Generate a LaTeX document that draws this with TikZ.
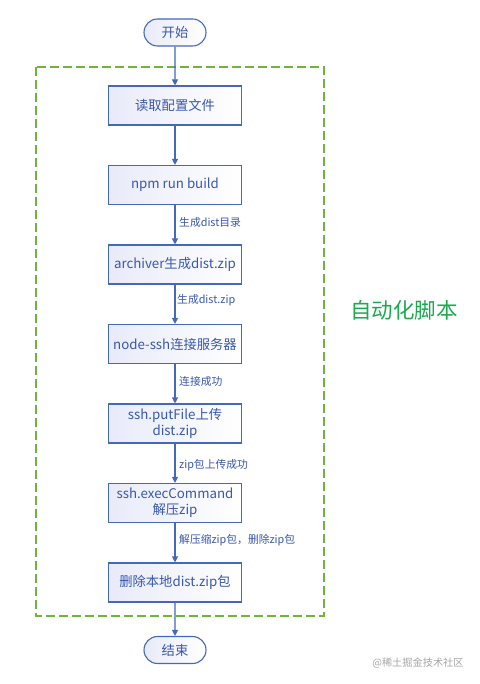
\documentclass[tikz,border=0pt]{standalone}
\usepackage{fontspec}
\setmainfont{Noto Sans CJK SC}
\usetikzlibrary{arrows.meta,shapes.misc}
\definecolor{lineblue}{RGB}{68,104,186}
\definecolor{textblue}{RGB}{58,88,170}
\definecolor{fillblue}{RGB}{232,235,248}
\definecolor{dashgreen}{RGB}{112,180,60}
\definecolor{labelgreen}{RGB}{28,170,80}
\begin{document}
\begin{tikzpicture}[x=1pt,y=-1pt,
  procbox/.style={draw=lineblue,line width=1.1pt,left color=fillblue,right color=white,
    minimum width=133pt,minimum height=39pt,text=textblue,font=\fontsize{13.3}{16}\selectfont,
    align=center,inner sep=2pt},
  termbox/.style={draw=lineblue,line width=1.1pt,left color=fillblue,right color=white,
    rounded rectangle,minimum width=66pt,minimum height=27pt,text=textblue,
    font=\fontsize{13.3}{16}\selectfont,inner sep=2pt},
  flow/.style={draw=lineblue,line width=1.1pt,-{Triangle[length=6pt,width=6pt]}},
  elabel/.style={text=textblue,font=\fontsize{10.8}{12}\selectfont,anchor=west,inner sep=0pt}]
\useasboundingbox (0,0) rectangle (479,684);
\fill[white] (0,0) rectangle (479,684);
\draw[dashgreen,line width=1.1pt,dash pattern=on 9pt off 4pt] (36,67) rectangle (324,616);
\node[text=labelgreen,font=\fontsize{21.5}{24}\selectfont] (auto) at (404,310) {自动化脚本};
\node[termbox] (start) at (175,32.5) {开始};
\node[procbox] (b1) at (175,105.5) {读取配置文件};
\node[procbox] (b2) at (175,185) {npm run build};
\node[procbox] (b3) at (175,264.5) {archiver生成dist.zip};
\node[procbox] (b4) at (175,344) {node-ssh连接服务器};
\node[procbox] (b5) at (175,423.5) {ssh.putFile上传\\dist.zip};
\node[procbox] (b6) at (175,503) {ssh.execCommand\\解压zip};
\node[procbox] (b7) at (175,582.5) {删除本地dist.zip包};
\node[termbox] (end) at (175,650) {结束};
\draw[flow] (start) -- (b1);
\draw[flow] (b1) -- (b2);
\draw[flow] (b2) -- (b3);
\draw[flow] (b3) -- (b4);
\draw[flow] (b4) -- (b5);
\draw[flow] (b5) -- (b6);
\draw[flow] (b6) -- (b7);
\draw[flow] (b7) -- (end);
\node[elabel] (l1) at (179,222) {生成dist目录};
\node[elabel] (l2) at (177,300) {生成dist.zip};
\node[elabel] (l3) at (179,381) {连接成功};
\node[elabel] (l4) at (179,465) {zip包上传成功};
\node[elabel] (l5) at (179,540) {解压缩zip包，删除zip包};
\node[text=black!35,font=\fontsize{10.2}{12}\selectfont] (wm) at (418,663) {@稀土掘金技术社区};
\end{tikzpicture}
\end{document}
